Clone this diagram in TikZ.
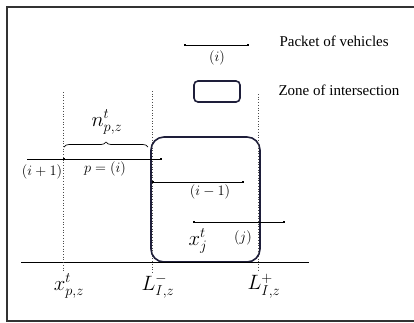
\documentclass[tikz,border=0pt]{standalone}
\usepackage{fontspec}
\setmainfont{Liberation Serif}
\usetikzlibrary{arrows.meta,decorations.pathreplacing}
\definecolor{zonecol}{RGB}{30,30,58}

\begin{document}
\begin{tikzpicture}[x=1pt,y=-1pt,
  packet/.style={line width=0.8pt, {Square[length=2.2pt,width=2.2pt]}-{Square[length=2.2pt,width=2.2pt]}},
  zone/.style={draw=zonecol, line width=1.6pt, inner sep=0pt},
  guide/.style={dotted, line width=0.7pt, black!70},
  plabel/.style={font=\fontsize{14.4}{17}\selectfont, inner sep=1pt},
  mlabel/.style={font=\fontsize{20.74}{24}\selectfont, inner sep=1pt},
  legend/.style={font=\fontsize{15}{18}\selectfont, anchor=west}]
  \useasboundingbox (0,0) rectangle (414,322);
  \draw [line width=1.2pt, black!80] (414,7) -- (7,7) -- (7,321) -- (414,321);

  % legend
  \coordinate (legA) at (184,45);
  \coordinate (legB) at (249,45);
  \draw [packet] (legA) -- (legB);
  \node [plabel] (legi) at (217,58) {$(i)$};
  \node [zone, rounded corners=4pt, minimum width=46pt, minimum height=21pt] (legzone) at (217,91.5) {};
  \node [legend] (packettxt) at (276,41) {Packet of vehicles};
  \node [legend] (zonetxt) at (275,90) {Zone of intersection};

  % zone of intersection and road
  \node [zone, rounded corners=13pt, minimum width=109pt, minimum height=125pt] (isect) at (205.5,199.5) {};
  \coordinate (roadW) at (21,262);
  \coordinate (roadE) at (309,262);
  \draw [line width=0.8pt] (roadW) -- (roadE);

  % dotted guides
  \coordinate (xpT) at (63,92);   \coordinate (xpB) at (63,272);
  \coordinate (LmT) at (152,91);  \coordinate (LmB) at (152,272);
  \coordinate (LpT) at (258,94);  \coordinate (LpB) at (258,272);
  \draw [guide] (xpT) -- (xpB);
  \draw [guide] (LmT) -- (LmB);
  \draw [guide] (LpT) -- (LpB);

  % packets
  \coordinate (prevW) at (27,159);
  \coordinate (pW) at (63,159);
  \coordinate (pE) at (162,159);
  \draw [line width=0.8pt] (prevW) -- (pW);
  \draw [packet] (pW) -- (pE);
  \coordinate (nextW) at (152,182);
  \coordinate (nextE) at (244,182);
  \draw [packet] (nextW) -- (nextE);
  \coordinate (jW) at (193,222);
  \coordinate (jE) at (285,222);
  \draw [packet] (jW) -- (jE);

  \draw [decorate, decoration={brace, amplitude=5pt}, line width=0.7pt] (64,147) -- (148,147);
  \node [mlabel] (nlbl) at (107,122) {$n^t_{p,z}$};

  \node [plabel] (prevlbl) at (42,172) {$(i+1)$};
  \node [plabel] (plbl) at (105,169) {$p=(i)$};
  \node [plabel] (nextlbl) at (210,192) {$(i-1)$};
  \node [plabel] (jlbl) at (243,238) {$(j)$};
  \node [mlabel] (xjlbl) at (198,241) {$x^t_j$};

  % road labels
  \node [mlabel] (xplbl) at (69,286) {$x^t_{p,z}$};
  \node [mlabel] (Lmlbl) at (158,286) {$L^-_{I,z}$};
  \node [mlabel] (Lplbl) at (264,286) {$L^+_{I,z}$};
\end{tikzpicture}
\end{document}
